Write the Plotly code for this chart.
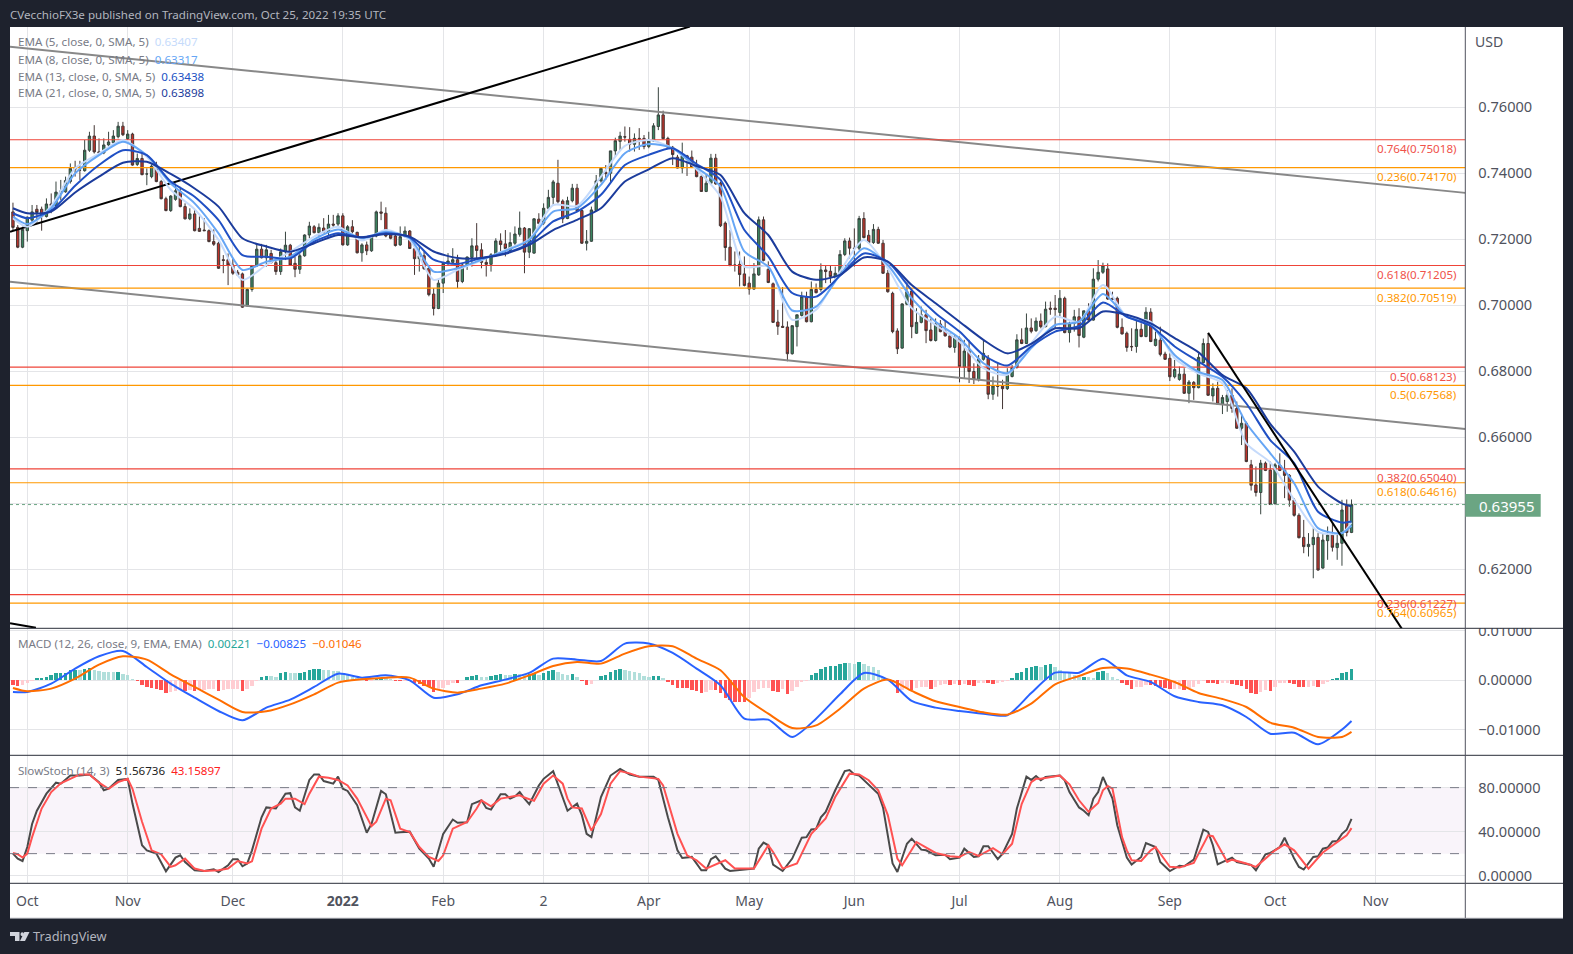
import plotly.graph_objects as go

W, H = 1573, 954
FONT = "Noto Sans"

# ---------- data: daily AUD/USD style bars, values in 1/10000 of a dollar ----------
first_bar, last_bar = -3, 277
opens = [7283,7236,7176,7226,7258,7291,7291,7269,7307,7302,
7343,7344,7375,7415,7410,7408,7470,7513,7465,7462,
7486,7493,7511,7543,7505,7519,7427,7445,7398,7390,
7422,7375,7323,7287,7321,7345,7299,7262,7277,7233,
7228,7226,7193,7188,7138,7138,7122,7100,7095,6998,
7048,7119,7170,7144,7157,7129,7102,7162,7182,7127,
7109,7150,7213,7238,7220,7234,7222,7246,7246,7271,
7183,7238,7221,7159,7183,7165,7210,7283,7279,7213,
7210,
7183,7208,7225,7171,7141,7150,7112,7034,6990,7067,
7127,7130,7138,7072,7122,7145,7180,7168,7130,7124,
7153,7195,7186,7166,7188,7215,7234,7161,7158,7261,
7249,7294,7327,7370,7316,7263,7317,7355,7287,7188,
7194,7287,7377,7403,7400,7468,7497,7511,7503,7488,
7506,7506,7481,7498,7542,7577,7506,7479,7449,7416,
7453,7449,7415,7390,7345,7370,7446,7370,7249,7176,
7122,7124,7095,7067,7049,7092,7259,7109,7065,6949,
6936,6934,6853,6935,
6969,7026,6950,7048,7048,7107,7103,7085,7097,7154,
7195,7173,7173,7263,7212,7190,7230,7188,7097,7036,
6922,6870,7003,7043,6915,6948,6971,6925,6893,6943,
6922,6907,6872,6900,6812,6861,6799,6774,6836,6839,
6730,6755,6755,6747,6784,6811,6895,6884,6931,6923,
6952,6935,6991,6991,6978,7021,6917,6945,6965,6903,
6983,6955,7079,7100,7110,7021,7021,6933,6915,6875,
6875,6927,6905,6979,6878,
6894,6852,6839,6783,6775,6791,6733,6766,6750,6826,
6884,6725,6748,6700,6708,6727,6687,6627,6642,6516,
6455,6432,6521,6500,6398,6515,6500,6484,6409,6363,
6296,6268,6274,6296,6203,6286,6303,6265,6278,6392,
6311]
highs = [7311,7243,7238,7269,7304,7304,7299,7324,7339,7375,
7380,7390,7430,7438,7438,7501,7526,7546,7506,7506,
7526,7531,7556,7556,7531,7523,7460,7465,7415,7440,
7435,7380,7329,7334,7369,7359,7309,7294,7291,7269,
7264,7230,7230,7193,7152,7157,7142,7107,7099,7051,
7122,7183,7186,7183,7168,7137,7172,7223,7186,7147,
7157,7215,7253,7243,7248,7264,7274,7274,7279,7279,
7243,7258,7223,7188,7193,7213,7287,7314,7297,7220,
7218,
7239,7239,7228,7188,7178,7163,7117,7052,7077,7127,
7158,7173,7153,7127,7148,7203,7249,7188,7148,7158,
7203,7218,7228,7221,7239,7284,7237,7234,7264,7279,
7309,7350,7380,7441,7321,7329,7368,7368,7291,7228,
7299,7395,7418,7425,7468,7508,7526,7542,7540,7521,
7537,7516,7526,7552,7661,7590,7511,7483,7456,7493,
7456,7469,7441,7395,7395,7459,7459,7375,7254,7228,
7163,7163,7148,7087,7128,7269,7269,7133,7069,6986,
7055,6951,6938,6971,
7041,7041,7072,7066,7127,7122,7120,7117,7167,7203,
7205,7233,7271,7282,7228,7246,7238,7198,7107,7041,
6930,7006,7069,7051,6991,6996,6986,6960,6960,6955,
6955,6915,6910,6905,6895,6895,6824,6849,6895,6849,
6784,6824,6774,6809,6819,6912,6930,6975,6960,6963,
6975,7011,7011,7031,7046,7026,6950,6986,6991,6983,
7006,7112,7137,7129,7127,7041,7026,6960,6920,6930,
6963,6945,6994,6991,6920,
6935,6859,6854,6834,6814,6809,6773,6770,6854,6899,
6915,6763,6768,6728,6743,6748,6708,6672,6647,6531,
6511,6531,6526,6526,6521,6551,6531,6488,6415,6369,
6349,6309,6324,6309,6309,6329,6339,6309,6410,6411,
6411]
lows = [7228,7173,7173,7193,7248,7248,7226,7266,7279,7297,
7319,7341,7369,7390,7380,7405,7465,7460,7458,7458,
7481,7489,7506,7513,7501,7423,7422,7394,7364,7385,
7373,7321,7285,7283,7317,7297,7260,7258,7224,7222,
7225,7191,7180,7110,7097,7061,7092,7089,6992,6996,
7041,7117,7142,7117,7127,7092,7092,7137,7120,7085,
7095,7147,7203,7218,7206,7218,7213,7238,7238,7181,
7180,7218,7157,7132,7152,7162,7206,7258,7206,7200,
7178,
7180,7206,7172,7092,7102,7107,7027,6969,6988,7037,
7122,7125,7052,7067,7107,7117,7143,7112,7087,7102,
7148,7158,7148,7158,7183,7208,7097,7143,7156,7246,
7244,7289,7301,7309,7249,7261,7312,7284,7186,7166,
7192,7284,7372,7380,7370,7451,7469,7496,7466,7466,
7471,7473,7476,7495,7531,7503,7477,7425,7415,7400,
7392,7416,7388,7344,7343,7368,7365,7237,7135,7119,
7102,7057,7057,7032,7047,7089,7133,7067,6946,6910,
6931,6830,6850,6875,
6966,6948,6948,7036,7041,7067,7067,7072,7092,7149,
7142,7117,7167,7203,7188,7186,7186,7095,7038,6915,
6852,6868,7000,6900,6913,6945,6885,6890,6890,6918,
6905,6870,6856,6766,6779,6764,6761,6769,6832,6715,
6713,6723,6685,6743,6781,6808,6882,6882,6915,6919,
6930,6933,6971,6930,6966,6915,6887,6920,6872,6900,
6953,6953,7072,7095,7016,7016,6930,6911,6859,6861,
6856,6903,6903,6888,6875,
6845,6834,6770,6778,6771,6731,6703,6713,6748,6824,
6725,6708,6698,6670,6677,6674,6625,6576,6524,6438,
6420,6366,6497,6394,6396,6497,6415,6389,6359,6293,
6248,6238,6172,6195,6201,6228,6253,6228,6210,6299,
6309]
closes = [7236,7176,7230,7267,7283,7281,7269,7307,7302,7343,
7346,7378,7415,7413,7410,7470,7513,7465,7462,7486,
7495,7513,7543,7517,7519,7425,7445,7396,7398,7422,
7375,7323,7287,7331,7347,7299,7262,7277,7226,7224,
7226,7193,7185,7112,7136,7122,7097,7092,6994,7048,
7119,7170,7144,7168,7129,7102,7162,7182,7122,7109,
7150,7213,7240,7220,7236,7222,7246,7243,7271,7183,
7238,7223,7159,7183,7165,7210,7283,7279,7210,7203,
7181,
7208,7225,7172,7141,7150,7111,7032,6990,7067,7127,
7134,7138,7072,7122,7146,7180,7166,7130,7124,7153,
7195,7184,7172,7190,7216,7234,7161,7232,7262,7248,
7294,7327,7374,7314,7262,7317,7355,7287,7188,7194,
7289,7377,7415,7399,7468,7499,7513,7510,7488,7506,
7505,7481,7498,7544,7577,7505,7479,7457,7416,7453,
7448,7418,7390,7345,7370,7446,7368,7241,7175,7120,
7121,7093,7060,7049,7095,7259,7136,7069,6948,6936,
6933,6853,6938,6971,
7026,6950,7048,7038,7107,7102,7087,7097,7154,7195,
7173,7172,7263,7205,7190,7230,7188,7097,7041,6920,
6868,7004,7041,6935,6948,6971,6923,6893,6943,6920,
6907,6873,6902,6814,6861,6799,6776,6837,6854,6730,
6755,6754,6747,6791,6811,6895,6884,6931,6921,6952,
6935,6988,6988,6987,7021,6917,6945,6965,6908,6983,
6955,7079,7100,7120,7019,7018,6933,6913,6872,6874,
6927,6905,6979,6890,6897,
6851,6836,6783,6805,6791,6733,6767,6750,6842,6884,
6727,6748,6700,6720,6727,6687,6627,6642,6526,6454,
6432,6521,6499,6396,6516,6499,6484,6409,6363,6295,
6268,6275,6296,6197,6288,6303,6266,6278,6379,6311,
6395.5]

line_bars = [-3,0,5,10,15,20,25,30,35,40,45,50,55,60,65,70,75,
80,85,90,95,100,105,110,115,120,125,130,135,140,145,150,155,160,
165,170,175,180,185,190,195,200,205,210,215,220,225,230,235,240,
245,250,255,260,265,270,275,277]
ema21 = [7294,7279,7284,7342,7390,7432,7435,7398,7354,7299,7203,7178,7162,7188,7213,7206,7216,
7208,7163,7143,7143,7156,7183,7228,7259,7294,7375,7412,7446,7422,7395,7279,7213,7102,
7077,7092,7145,7132,7061,7006,6950,6895,6854,6883,6930,6930,6981,6971,6945,6900,
6857,6788,6748,6640,6556,6450,6399,6390]
ema13 = [7279,7264,7287,7362,7425,7470,7455,7375,7329,7258,7152,7147,7142,7193,7218,7206,7218,
7206,7138,7125,7143,7158,7188,7254,7284,7335,7425,7456,7476,7428,7380,7228,7148,7037,
7026,7089,7157,7132,7046,6976,6920,6849,6817,6875,6920,6937,7008,6965,6937,6875,
6829,6783,6702,6591,6521,6374,6341,6344]
ema8 = [7269,7246,7294,7400,7455,7496,7455,7369,7309,7218,7107,7132,7147,7200,7230,7203,7223,
7203,7102,7112,7138,7165,7198,7284,7294,7365,7461,7489,7476,7418,7360,7163,7117,6984,
6996,7092,7173,7122,7021,6950,6900,6824,6794,6870,6940,6950,7034,6965,6940,6849,
6798,6773,6642,6551,6460,6324,6309,6332]
ema5 = [7264,7238,7301,7415,7460,7501,7450,7350,7291,7198,7077,7122,7162,7208,7238,7196,7228,
7198,7077,7107,7136,7168,7200,7304,7301,7390,7483,7501,7476,7412,7329,7117,7117,6956,
6986,7102,7198,7112,6991,6940,6890,6809,6789,6885,6965,6950,7061,6965,6950,6839,
6793,6763,6581,6523,6410,6313,6309,6341]

# MACD values in 1e-5
macd_line = [-237,-237,-68,237,487,595,270,-68,-352,-622,-811,-554,-392,-135,135,54,101,
0,-352,-284,-101,14,149,439,419,392,744,744,554,237,-101,-777,-798,-1149,
-777,-284,149,14,-419,-554,-622,-676,-710,-257,155,155,439,101,-34,-324,
-439,-507,-744,-1082,-1061,-1298,-1000,-825]
signal_line = [-155,-223,-169,34,318,487,419,122,-135,-392,-642,-629,-487,-284,-47,20,54,
54,-169,-250,-169,-68,101,291,372,338,541,690,690,439,203,-345,-676,-967,
-913,-575,-169,14,-216,-426,-541,-649,-696,-473,-81,88,250,237,115,-34,
-257,-379,-541,-859,-960,-1149,-1149,-1046]
macd_hist = [-101,-115,-101,-54,-20,34,41,68,101,135,142,149,203,210,203,223,237,203,183,169,
162,155,162,122,101,20,-14,-101,-135,-169,-176,-203,-257,-250,-223,-203,-223,-203,-223,-203,
-196,-189,-183,-223,-203,-189,-183,-176,-223,-189,-122,-7,61,81,74,68,135,169,149,135,
142,169,203,223,230,203,196,189,183,135,101,68,34,14,-20,-7,41,47,34,20,
-7,-14,-7,-20,-54,-81,-122,-149,-237,-203,-169,-101,-54,-61,0,54,81,95,68,54,
81,101,122,101,95,122,
115,114,122,125,101,135,189,203,169,122,101,122,54,-20,-95,-81,0,81,101,155,
203,223,203,176,162,135,81,68,74,81,27,-34,-95,-162,-169,-172,-196,-216,-257,-243,
-203,-205,-270,-372,-406,-439,-441,-443,-372,-237,-189,-169,-162,-216,-237,-189,-284,-216,-135,-41,
-14,95,149,223,257,284,290,324,338,335,324,372,324,284,257,203,68,14,-20,-257,
-203,-169,-203,-169,-149,-148,-183,-135,-101,-81,-95,-81,-101,-88,-95,-122,-68,-54,-68,-81,
-68,-41,-14,34,135,169,237,257,277,270,311,318,270,203,149,135,101,54,61,54,
47,169,189,149,54,20,
-68,-101,-183,-149,-140,-95,-96,-115,-149,-169,-189,-176,-175,-203,-169,-135,-81,-14,-54,-68,
-88,-68,-60,-81,-101,-115,-176,-257,-291,-237,-203,-216,-149,-68,-54,-68,-81,-135,-149,-135,
-122,-149,-81,-34,20,41,135,162,221]

k_bars = [-3,-2,-1,0,1,2,4,6,7,9,11,13,15,16,17,19,21,22,24,25,27,29,31,32,33,35,37,39,40,42,43,44,45,46,47,49,50,52,54,55,56,57,59,60,61,62,64,65,66,67,69,71,72,74,75,77,78,80,82,84,85,87,89,90,92,93,95,96,97,99,100,101,102,
103,104,105,107,108,110,113,115,116,117,118,120,122,124,126,128,131,132,134,136,137,139,141,142,143,144,146,147,152,153,154,155,156,158,160,162,163,164,165,166,167,169,170,171,172,173,174,178,179,181,182,184,185,187,188,190,192,193,195,196,198,199,200,201,203,204,206,207,209,210,211,
212,213,216,217,218,220,221,222,223,224,225,227,228,230,231,233,234,236,237,239,241,242,244,246,247,248,249,252,253,256,257,259,260,262,263,265,266,267,269,270,271,272,273,274,275,276,277]
k_vals = [20,15.5,13.3,26,47,59,74.5,84.5,83.6,91,91,92,85,77.6,79,87,88,65.5,27.6,23,20,4,16.4,18.5,12.4,4.8,4.2,5.8,3.3,9.4,15,15,8.5,11,23,53,62,61,74.5,75,62,59,87,92,92,86,83.6,90,79,77,64,39,47,77,74,39,39.4,40,24.5,15.5,8,38,51,48,48.5,65,68.5,61.5,60,74,74,70,72,
76,70,65,82,88,95,59,65.5,55,38,35,71.5,91,97,92,90,90,87,53,23,16,17,4.8,4.8,15,17.6,6.4,4.2,6.4,24.5,30,27.6,10,4.2,15.5,34.5,35,42,42.4,53,58,77.6,87,95,96,92,91,74.5,62,11,3.3,29,33.6,23.6,23,18.5,19,15,16.4,24.5,17,17.6,26.7,26.7,15,20,38,61,90,87,90.6,
86.7,89.7,91,86.7,76,62,59,55,70,76,89.7,70,45.8,16.4,10,17,29.7,26,12.4,4.2,9,8.5,14.5,41.8,39.7,27.6,10.3,16.4,12.4,9.7,4.8,19.4,20.6,26,34.5,15.5,7.9,5.5,17,17.6,24.5,25.5,31,31.5,38,41.8,51.57]
d_bars = [-3,-2,-1,0,1,3,5,7,9,11,13,15,17,19,21,22,24,26,28,30,31,33,35,37,40,42,44,46,47,49,51,53,54,56,58,59,61,63,65,67,69,72,73,75,76,78,80,82,84,86,87,89,92,94,95,97,99,101,102,
103,104,106,108,110,112,113,114,116,118,120,122,124,126,128,132,133,136,138,140,142,146,148,152,155,156,158,161,164,167,169,172,174,176,178,180,182,183,186,190,193,195,197,199,202,204,206,208,210,211,
212,216,218,220,222,224,225,226,227,229,230,231,233,235,236,239,241,244,247,248,251,252,255,257,261,263,265,268,271,274,276,277]
d_vals = [20.6,19.4,16.4,20,35,61,76,84,88,92,92,84.5,79,85,88,79,49,23,19.4,8,9.4,15.5,6.4,4.2,4.8,6.4,13.3,11,13,42.7,61,65.5,70,70,65,74.5,90,89,87,82,70,45,49,70,68.5,42.7,39.7,26,17,13.3,18.5,42.7,48.8,61,68.5,63,70,72,72.4,
73,71,68,83.6,91,83.6,70,62,61,41,56,83.6,95,93,90,88,82,38,18.5,14,6.4,14,6.4,6.4,27.6,21.5,6.4,11,38,52,71.5,92.7,92,86.7,77.6,55,15.5,9.4,30.6,20.6,17.6,17,21.5,18,25,19.4,29,65,85,88,
88,91,83,68.5,58,66,77.6,81.5,79,35,23,14,13.3,23,26,8,7.3,11.5,36.7,35.8,12.4,14.5,11,8,23,28.5,23,6.4,21,30.6,36.7,43.16]

red_levels = [0.75018, 0.71205, 0.68123, 0.65040, 0.61227]
red_labels = ["0.764(0.75018)", "0.618(0.71205)", "0.5(0.68123)", "0.382(0.65040)", "0.236(0.61227)"]
orange_levels = [0.74170, 0.70519, 0.67568, 0.64616, 0.60965]
orange_labels = ["0.236(0.74170)", "0.382(0.70519)", "0.5(0.67568)", "0.618(0.64616)", "0.764(0.60965)"]
last_price = 0.63955

channel_upper_bars, channel_upper = [-3.62, 300.8], [0.77839, 0.73407]
channel_lower_bars, channel_lower = [-3.62, 300.8], [0.70709, 0.66249]
trend_up_bars, trend_up = [-3.62, 138.6], [0.72226, 0.78452]
trend_low_bars, trend_low = [-3.62, 1.8], [0.60354, 0.60217]
trend_down_bars, trend_down = [247, 287.5], [0.69162, 0.60193]

tick_bars = [0, 21, 43, 66, 87, 108, 130, 151, 173, 195, 216, 239, 261, 282]
tick_names = ["Oct", "Nov", "Dec", "<b>2022</b>", "Feb", "2", "Apr", "May", "Jun", "Jul", "Aug", "Sep", "Oct", "Nov"]
price_ticks = [0.62, 0.64, 0.66, 0.68, 0.70, 0.72, 0.74, 0.76]
macd_ticks = [0.01, 0.0, -0.01]
macd_tick_names = ["0.01000", "0.00000", "\u22120.01000"]
stoch_ticks = [0, 40, 80]
stoch_tick_names = ["0.00000", "40.00000", "80.00000"]

assert len(opens) == len(highs) == len(lows) == len(closes) == len(macd_hist) == last_bar - first_bar + 1, (len(opens), len(highs), len(lows), len(closes), len(macd_hist))
assert len(line_bars) == len(ema21) == len(ema13) == len(ema8) == len(ema5) == len(macd_line) == len(signal_line)
assert len(k_bars) == len(k_vals), (len(k_bars), len(k_vals))
assert len(d_bars) == len(d_vals), (len(d_bars), len(d_vals))

# ---------- layout constants (pixels of the page) ----------
L, R, TOP, P1, P2, P3, BOT, EDGE = 10, 1465.3, 27, 628.3, 755.3, 883.3, 918.3, 1563
XR = [-3.62, 300.8]
def fx(p): return p / W
def fy(p): return 1 - p / H

bars = list(range(first_bar, last_bar + 1))
px = lambda v: [a / 10000 for a in v]
ink, axis_ink, grid = "#4a4e5a", "#50535e", "#e4e5e8"

fig = go.Figure()
fig.add_trace(go.Candlestick(x=bars, open=px(opens), high=px(highs), low=px(lows), close=px(closes),
    increasing=dict(line=dict(color="#38443f", width=1), fillcolor="#3a8560"),
    decreasing=dict(line=dict(color="#443634", width=1), fillcolor="#c0322a"),
    whiskerwidth=0, xaxis="x", yaxis="y", hoverinfo="skip"))

def line(x, y, color, width=2, xa="x", ya="y", dash=None, shape="linear"):
    fig.add_trace(go.Scatter(x=x, y=y, mode="lines", xaxis=xa, yaxis=ya, hoverinfo="skip",
                             line=dict(color=color, width=width, dash=dash, shape=shape, smoothing=0.7)))

line(XR, [last_price, last_price], "#6ba583", 1, dash="dot")
line(channel_upper_bars, channel_upper, "#888888", 2)
line(channel_lower_bars, channel_lower, "#888888", 2)
for lv in red_levels:
    line(XR, [lv, lv], "#ef4438", 1.2)
for lv in orange_levels:
    line(XR, [lv, lv], "#ff9800", 1.2)
line(trend_up_bars, trend_up, "#000000", 2)
line(trend_low_bars, trend_low, "#000000", 2)
for series, col in ((ema5, "#c6dbfb"), (ema8, "#66a6f5"), (ema13, "#2050c4"), (ema21, "#1c3c9c")):
    line(line_bars, px(series), col, 2, shape="spline")
line(trend_down_bars, trend_down, "#000000", 2)

# MACD pane
hist_colors = []
prev = macd_hist[0] + 1
for v in macd_hist:
    if v >= 0:
        hist_colors.append("#26a69a" if v > prev else "#b2dfdb")
    else:
        hist_colors.append("#ff5252" if v < prev else "#ffcdd2")
    prev = v
fig.add_trace(go.Bar(x=bars, y=[v * 1e-5 for v in macd_hist], marker=dict(color=hist_colors, line=dict(width=0)),
                     width=0.72, xaxis="x2", yaxis="y2", hoverinfo="skip"))
line(line_bars, [v * 1e-5 for v in macd_line], "#2962ff", 2, "x2", "y2", shape="spline")
line(line_bars, [v * 1e-5 for v in signal_line], "#ff6d00", 2, "x2", "y2", shape="spline")

# Stochastic pane
line(k_bars, k_vals, "#4a4a4a", 2, "x3", "y3")
line(d_bars, d_vals, "#ff5252", 2, "x3", "y3")

# ---------- axes ----------
def xaxis(anchor, labels=False):
    return dict(domain=[fx(L), fx(R)], range=XR, anchor=anchor, tickmode="array", tickvals=tick_bars, automargin=False,
                ticktext=tick_names, showticklabels=labels, showgrid=True, gridcolor=grid, gridwidth=1,
                zeroline=False, showline=False, ticks="outside" if labels else "", ticklen=5,
                tickcolor="rgba(0,0,0,0)", tickfont=dict(family=FONT, size=14, color=axis_ink), rangeslider=dict(visible=False))

def yaxis(anchor, top, bottom, rng, vals, names):
    return dict(domain=[fy(bottom), fy(top)], range=rng, anchor=anchor, side="right", tickmode="array", automargin=False,
                tickvals=vals, ticktext=names, showgrid=True, gridcolor=grid, gridwidth=1, zeroline=False,
                showline=False, ticks="outside", ticklen=9, tickcolor="rgba(0,0,0,0)",
                tickfont=dict(family=FONT, size=14.6, color=axis_ink))

shapes = [
    dict(type="rect", xref="paper", yref="paper", x0=fx(L), x1=fx(EDGE), y0=fy(BOT), y1=fy(TOP),
         fillcolor="#ffffff", line=dict(width=0), layer="below"),
    dict(type="rect", xref="x3", yref="y3", x0=XR[0], x1=XR[1], y0=20, y1=80,
         fillcolor="rgba(149,60,170,0.06)", line=dict(width=0), layer="below"),
    dict(type="line", xref="x3", yref="y3", x0=XR[0], x1=XR[1], y0=80, y1=80, line=dict(color="#787b86", width=1, dash="dash")),
    dict(type="line", xref="x3", yref="y3", x0=XR[0], x1=XR[1], y0=20, y1=20, line=dict(color="#787b86", width=1, dash="dash")),
    # mask over the clipped top of the MACD scale
    dict(type="rect", xref="paper", yref="paper", x0=fx(R + 1), x1=fx(EDGE), y0=fy(P1), y1=fy(612),
         fillcolor="#ffffff", line=dict(width=0), layer="above"),
]
for yy in (P1, P2, P3):
    shapes.append(dict(type="line", xref="paper", yref="paper", x0=fx(L), x1=fx(EDGE), y0=fy(yy), y1=fy(yy),
                       line=dict(color="#2a2e39", width=1)))
shapes.append(dict(type="line", xref="paper", yref="paper", x0=fx(R), x1=fx(R), y0=fy(BOT), y1=fy(TOP),
                   line=dict(color="#50535e", width=1)))
shapes.append(dict(type="line", xref="paper", yref="paper", x0=fx(L), x1=fx(EDGE), y0=fy(BOT), y1=fy(BOT),
                   line=dict(color="#9598a1", width=1)))
# price tag
shapes.append(dict(type="rect", xref="paper", yref="paper", x0=fx(R), x1=fx(1540.7), y0=fy(516.7), y1=fy(494),
                   fillcolor="#6ba583", line=dict(width=0), layer="above"))
# logo
def pp(points):
    return "M" + " L".join(f"{fx(a):.5f},{fy(b):.5f}" for a, b in points) + " Z"
logo = "#d1d4dc"
shapes.append(dict(type="path", xref="paper", yref="paper", path=pp([(10, 932), (19.5, 932), (19.5, 941), (15, 941), (15, 936), (10, 936)]),
                   fillcolor=logo, line=dict(width=0)))
shapes.append(dict(type="circle", xref="paper", yref="paper", x0=fx(20.5), x1=fx(24), y0=fy(936), y1=fy(932.3),
                   fillcolor=logo, line=dict(width=0)))
shapes.append(dict(type="path", xref="paper", yref="paper", path=pp([(24.3, 932), (29.5, 932), (25, 941), (20, 941)]),
                   fillcolor=logo, line=dict(width=0)))

def note(x, y, text, size=11.6, color="#787b86", anchor="left"):
    return dict(xref="paper", yref="paper", x=fx(x - 2), y=fy(y), text=text, showarrow=False, xanchor=anchor, yanchor="middle",
                font=dict(family=FONT, size=size, color=color), align=anchor)

def sp(c, t):
    return f"<span style='color:{c}'>{t}</span>"

annots = [
    note(L, 14.5, "CVecchioFX3e published on TradingView.com, Oct 25, 2022 19:35 UTC", 11.6, "#b2b5be"),
    note(18, 42, "EMA (5, close, 0, SMA, 5)  " + sp("#c6dbfb", "0.63407")),
    note(18, 59, "EMA (8, close, 0, SMA, 5)  " + sp("#66a6f5", "0.63317")),
    note(18, 76, "EMA (13, close, 0, SMA, 5)  " + sp("#2050c4", "0.63438")),
    note(18, 93, "EMA (21, close, 0, SMA, 5)  " + sp("#1c3c9c", "0.63898")),
    note(18, 643.7, "MACD (12, 26, close, 9, EMA, EMA)  " + sp("#26a69a", "0.00221") + "  " + sp("#2962ff", "\u22120.00825") + "  " + sp("#ff6d00", "\u22120.01046")),
    note(18, 770.7, "SlowStoch (14, 3)  " + sp("#222222", "51.56736") + "  " + sp("#ff2020", "43.15897")),
    note(1475, 42, "USD", 14, axis_ink),
    note(1479, 505.5, "0.63955", 15, "#ffffff"),
    note(33.3, 936, "TradingView", 12.8, "#b2b5be"),
]
for lv, lab in zip(red_levels, red_labels):
    annots.append(dict(xref="paper", yref="y", x=fx(1458.5), y=lv, yshift=-9, text=lab, showarrow=False, xanchor="right",
                       yanchor="middle", font=dict(family=FONT, size=11.6, color="#f0524a")))
for lv, lab in zip(orange_levels, orange_labels):
    annots.append(dict(xref="paper", yref="y", x=fx(1458.5), y=lv, yshift=-9, text=lab, showarrow=False, xanchor="right",
                       yanchor="middle", font=dict(family=FONT, size=11.6, color="#ff9800")))

fig.update_layout(
    width=W, height=H, margin=dict(l=0, r=0, t=0, b=0), autosize=False, showlegend=False,
    paper_bgcolor="#1e222d", plot_bgcolor="rgba(0,0,0,0)", boxgap=0.3, bargap=0, barmode="overlay",
    xaxis=xaxis("y"), xaxis2=xaxis("y2"), xaxis3=xaxis("y3", True),
    yaxis=yaxis("x", TOP, P1, [0.60203, 0.78437], price_ticks, [f"{v:.5f}" for v in price_ticks]),
    yaxis2=yaxis("x2", P1, P2, [-0.0152, 0.01054], macd_ticks, macd_tick_names),
    yaxis3=yaxis("x3", P2, P3, [-6.97, 109.4], stoch_ticks, stoch_tick_names),
    shapes=shapes, annotations=annots, font=dict(family=FONT),
)
fig.write_html("out.html", config=dict(displayModeBar=False),
               post_script="document.body.style.margin='0';document.documentElement.style.background='#1e222d';document.documentElement.style.overflow='hidden';")
